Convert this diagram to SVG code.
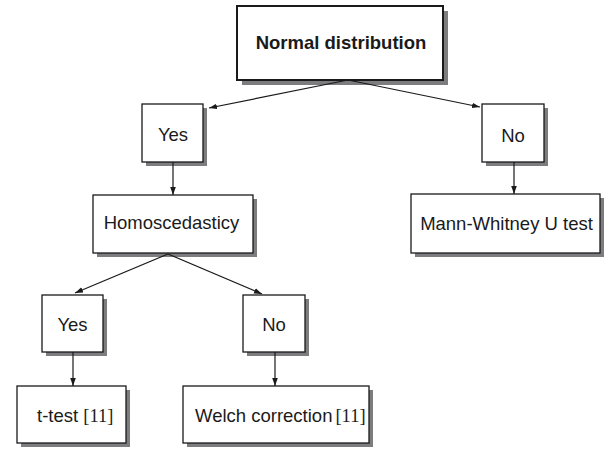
<svg xmlns="http://www.w3.org/2000/svg" width="613" height="450" viewBox="0 0 613 450">
<style>
.bx{fill:#fff;stroke:#1a1a1a;stroke-width:1.3}
.bxb{fill:#fff;stroke:#1a1a1a;stroke-width:2}
.sh{fill:#7d7d80}
.t{font-family:"Liberation Sans",Arial,sans-serif;font-size:18.5px;fill:#1a1a1a}
.tb{font-family:"Liberation Sans",Arial,sans-serif;font-size:18.5px;font-weight:bold;fill:#1a1a1a}
.sf{font-family:"Liberation Serif","Times New Roman",serif}
.e{fill:none;stroke:#1a1a1a;stroke-width:1.2}
</style>
<defs>
<marker id="ah" viewBox="0 0 10 10" refX="10" refY="5" markerWidth="8" markerHeight="8" markerUnits="userSpaceOnUse" orient="auto">
<path d="M0,1.5 L10,5 L0,8.5 z" fill="#1a1a1a"/>
</marker>
</defs>
<rect width="613" height="450" fill="#fff"/>
<g id="n_normal">
<rect class="sh" x="242" y="11" width="206" height="74"/>
<rect class="bxb" x="237" y="6" width="206" height="74"/>
<text class="tb" x="341" y="49" text-anchor="middle">Normal distribution</text>
</g>
<g id="n_yes1">
<rect class="sh" x="146" y="108" width="61" height="58"/>
<rect class="bx" x="142" y="104" width="61" height="58"/>
<text class="t" x="173" y="141" text-anchor="middle">Yes</text>
</g>
<g id="n_no1">
<rect class="sh" x="486" y="108" width="62" height="58"/>
<rect class="bx" x="482" y="104" width="62" height="58"/>
<text class="t" x="513" y="142" text-anchor="middle">No</text>
</g>
<g id="n_homo">
<rect class="sh" x="97" y="199" width="160" height="58"/>
<rect class="bx" x="93" y="195" width="160" height="58"/>
<text class="t" x="171.5" y="229" text-anchor="middle">Homoscedasticy</text>
</g>
<g id="n_mw">
<rect class="sh" x="415" y="198" width="189" height="59"/>
<rect class="bx" x="411" y="194" width="189" height="59"/>
<text class="t" x="506.5" y="230" text-anchor="middle">Mann-Whitney U test</text>
</g>
<g id="n_yes2">
<rect class="sh" x="46" y="299" width="61" height="57"/>
<rect class="bx" x="42" y="295" width="61" height="57"/>
<text class="t" x="72.5" y="331" text-anchor="middle">Yes</text>
</g>
<g id="n_no2">
<rect class="sh" x="247" y="299" width="62" height="57"/>
<rect class="bx" x="243" y="295" width="62" height="57"/>
<text class="t" x="274" y="331" text-anchor="middle">No</text>
</g>
<g id="n_ttest">
<rect class="sh" x="21" y="390" width="109" height="57"/>
<rect class="bx" x="17" y="386" width="109" height="57"/>
<text class="t" x="37" y="422">t-test <tspan class="sf">[11]</tspan></text>
</g>
<g id="n_welch">
<rect class="sh" x="187" y="390" width="186" height="57"/>
<rect class="bx" x="183" y="386" width="186" height="57"/>
<text class="t" x="195" y="422">Welch correction<tspan class="sf" font-size="12"> </tspan><tspan class="sf">[11]</tspan></text>
</g>
<g id="connectors">
<path class="e" d="M348,80 L209,108" marker-end="url(#ah)"/>
<path class="e" d="M348,80 L480,107" marker-end="url(#ah)"/>
<path class="e" d="M173,162 L173,195" marker-end="url(#ah)"/>
<path class="e" d="M514,162 L514,194" marker-end="url(#ah)"/>
<path class="e" d="M168,254 L75,293" marker-end="url(#ah)"/>
<path class="e" d="M168,254 L262,294" marker-end="url(#ah)"/>
<path class="e" d="M73,352 L73,386" marker-end="url(#ah)"/>
<path class="e" d="M275,352 L275,386" marker-end="url(#ah)"/>
</g>
</svg>
